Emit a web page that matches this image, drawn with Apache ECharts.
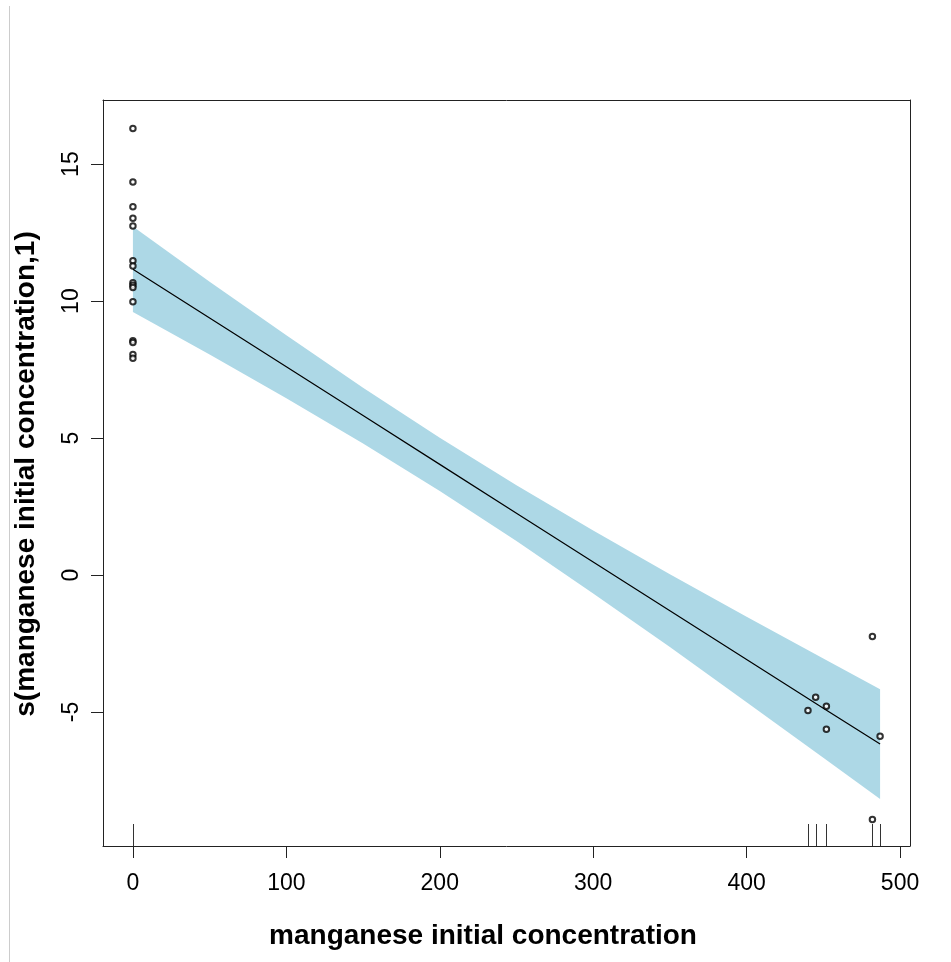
<!DOCTYPE html>
<html>
<head>
<meta charset="utf-8">
<title>manganese initial concentration</title>
<script src="https://cdn.jsdelivr.net/npm/echarts@6/dist/echarts.min.js"></script>
<style>
	html, body { margin: 0; padding: 0; background: #fff; }
	#gamChart { width: 951px; height: 962px; }
</style>
</head>
<body>
<div id="gamChart"></div>
<script>
// fitted smooth and its band
var fitX = [0, 50, 100, 150, 200, 250, 300, 350, 400, 450, 487];
var fitY = [11.16, 9.38, 7.60, 5.82, 4.04, 2.26, 0.48, -1.30, -3.08, -4.86, -6.17];
var bandUpper = [12.72, 10.71, 8.75, 6.84, 5.01, 3.28, 1.63, 0.03, -1.52, -3.05, -4.17];
var bandLower = [9.60, 8.05, 6.45, 4.80, 3.07, 1.24, -0.67, -2.63, -4.64, -6.67, -8.17];

// partial residuals
var pointsX = [0, 0, 0, 0, 0, 0, 0, 0, 0, 0, 0, 0, 0, 0, 0,
	482, 445, 440, 452, 452, 487, 482];
var pointsY = [16.30, 14.35, 13.44, 13.02, 12.74, 11.47, 11.28, 10.67, 10.58, 10.50, 9.98, 8.55, 8.49, 8.05, 7.91,
	-2.24, -4.46, -4.94, -4.79, -5.63, -5.88, -8.92];

// rug along the bottom
var rugX = [0, 440, 445, 452, 482, 487];

var xTicks = [0, 100, 200, 300, 400, 500];
var yTicks = [-5, 0, 5, 10, 15];

var xMin = -19.5, xMax = 506.5;
var yMin = -9.89, yMax = 17.34;

var fontName = "'Liberation Sans', Arial, sans-serif";

function pairs(xs, ys){
	var out = [];
	for(var i=0;i<xs.length;i++){
		out.push([xs[i], ys[i]]);
	}
	return out;
}

function renderBand(params, api){
	var pts = [];
	for(var i=0;i<fitX.length;i++){
		pts.push(api.coord([fitX[i], bandUpper[i]]));
	}
	for(var j=fitX.length-1;j>=0;j--){
		pts.push(api.coord([fitX[j], bandLower[j]]));
	}
	return {
		type: 'polygon',
		shape: { points: pts },
		style: { fill: '#ADD8E6', stroke: null }
	};
}

function renderRug(params, api){
	var p = api.coord([api.value(0), yMin]);
	var x = Math.round(p[0]) + 0.5;
	return {
		type: 'line',
		shape: { x1: x, y1: p[1], x2: x, y2: p[1] - 22 },
		style: { stroke: '#333', lineWidth: 1 }
	};
}

// axis helper, the frame is four axes with no zero crossing
function frameAxis(extra){
	var base = {
		type: 'value',
		axisLine: { show: true, onZero: false, lineStyle: { color: '#222', width: 1 } },
		axisTick: { show: false },
		axisLabel: { show: false },
		splitLine: { show: false }
	};
	for(var k in extra){
		base[k] = extra[k];
	}
	return base;
}

var chart = echarts.init(document.getElementById('gamChart'));
var option = {
	animation: false,
	backgroundColor: '#fff',
	grid: { left: 103, top: 100, width: 807, height: 746 },
	xAxis: [frameAxis({
		min: xMin,
		max: xMax,
		axisTick: { show: true, customValues: xTicks, length: 12, lineStyle: { color: '#222' } },
		axisLabel: { show: true, customValues: xTicks, margin: 26, fontSize: 23, color: '#000', fontFamily: fontName }
	}), frameAxis({
		position: 'top',
		min: xMin,
		max: xMax
	})],
	yAxis: [frameAxis({
		min: yMin,
		max: yMax,
		axisTick: { show: true, customValues: yTicks, length: 12, lineStyle: { color: '#222' } },
		axisLabel: { show: true, customValues: yTicks, rotate: 90, margin: 20, fontSize: 23, color: '#000', fontFamily: fontName }
	}), frameAxis({
		position: 'right',
		min: yMin,
		max: yMax
	})],
	graphic: [{
		// thin gray rule at the left edge of the picture
		type: 'line',
		shape: { x1: 9.5, y1: 6, x2: 9.5, y2: 962 },
		style: { stroke: '#cccccc', lineWidth: 1 },
		silent: true
	}, {
		type: 'text',
		x: 483,
		y: 936,
		style: {
			text: 'manganese initial concentration',
			font: "bold 28px " + fontName,
			fill: '#000',
			align: 'center',
			verticalAlign: 'middle'
		}
	}, {
		type: 'text',
		x: 26,
		y: 474,
		rotation: Math.PI / 2,
		style: {
			text: 's(manganese initial concentration,1)',
			font: "bold 28px " + fontName,
			fill: '#000',
			align: 'center',
			verticalAlign: 'middle'
		}
	}],
	series: [{
		type: 'custom',
		name: 'band',
		renderItem: renderBand,
		data: [[0, 0]],
		z: 1,
		silent: true
	}, {
		type: 'line',
		name: 'fit',
		data: pairs(fitX, fitY),
		showSymbol: false,
		lineStyle: { color: '#000', width: 1.2 },
		z: 3
	}, {
		type: 'scatter',
		name: 'residuals',
		data: pairs(pointsX, pointsY),
		symbol: 'emptyCircle',
		symbolSize: 5.5,
		itemStyle: { color: '#000', borderColor: '#000', borderWidth: 1 },
		z: 4
	}, {
		type: 'custom',
		name: 'rug',
		renderItem: renderRug,
		data: rugX.map(function(v){ return [v]; }),
		z: 2,
		silent: true
	}]
};
chart.setOption(option);
</script>
</body>
</html>
